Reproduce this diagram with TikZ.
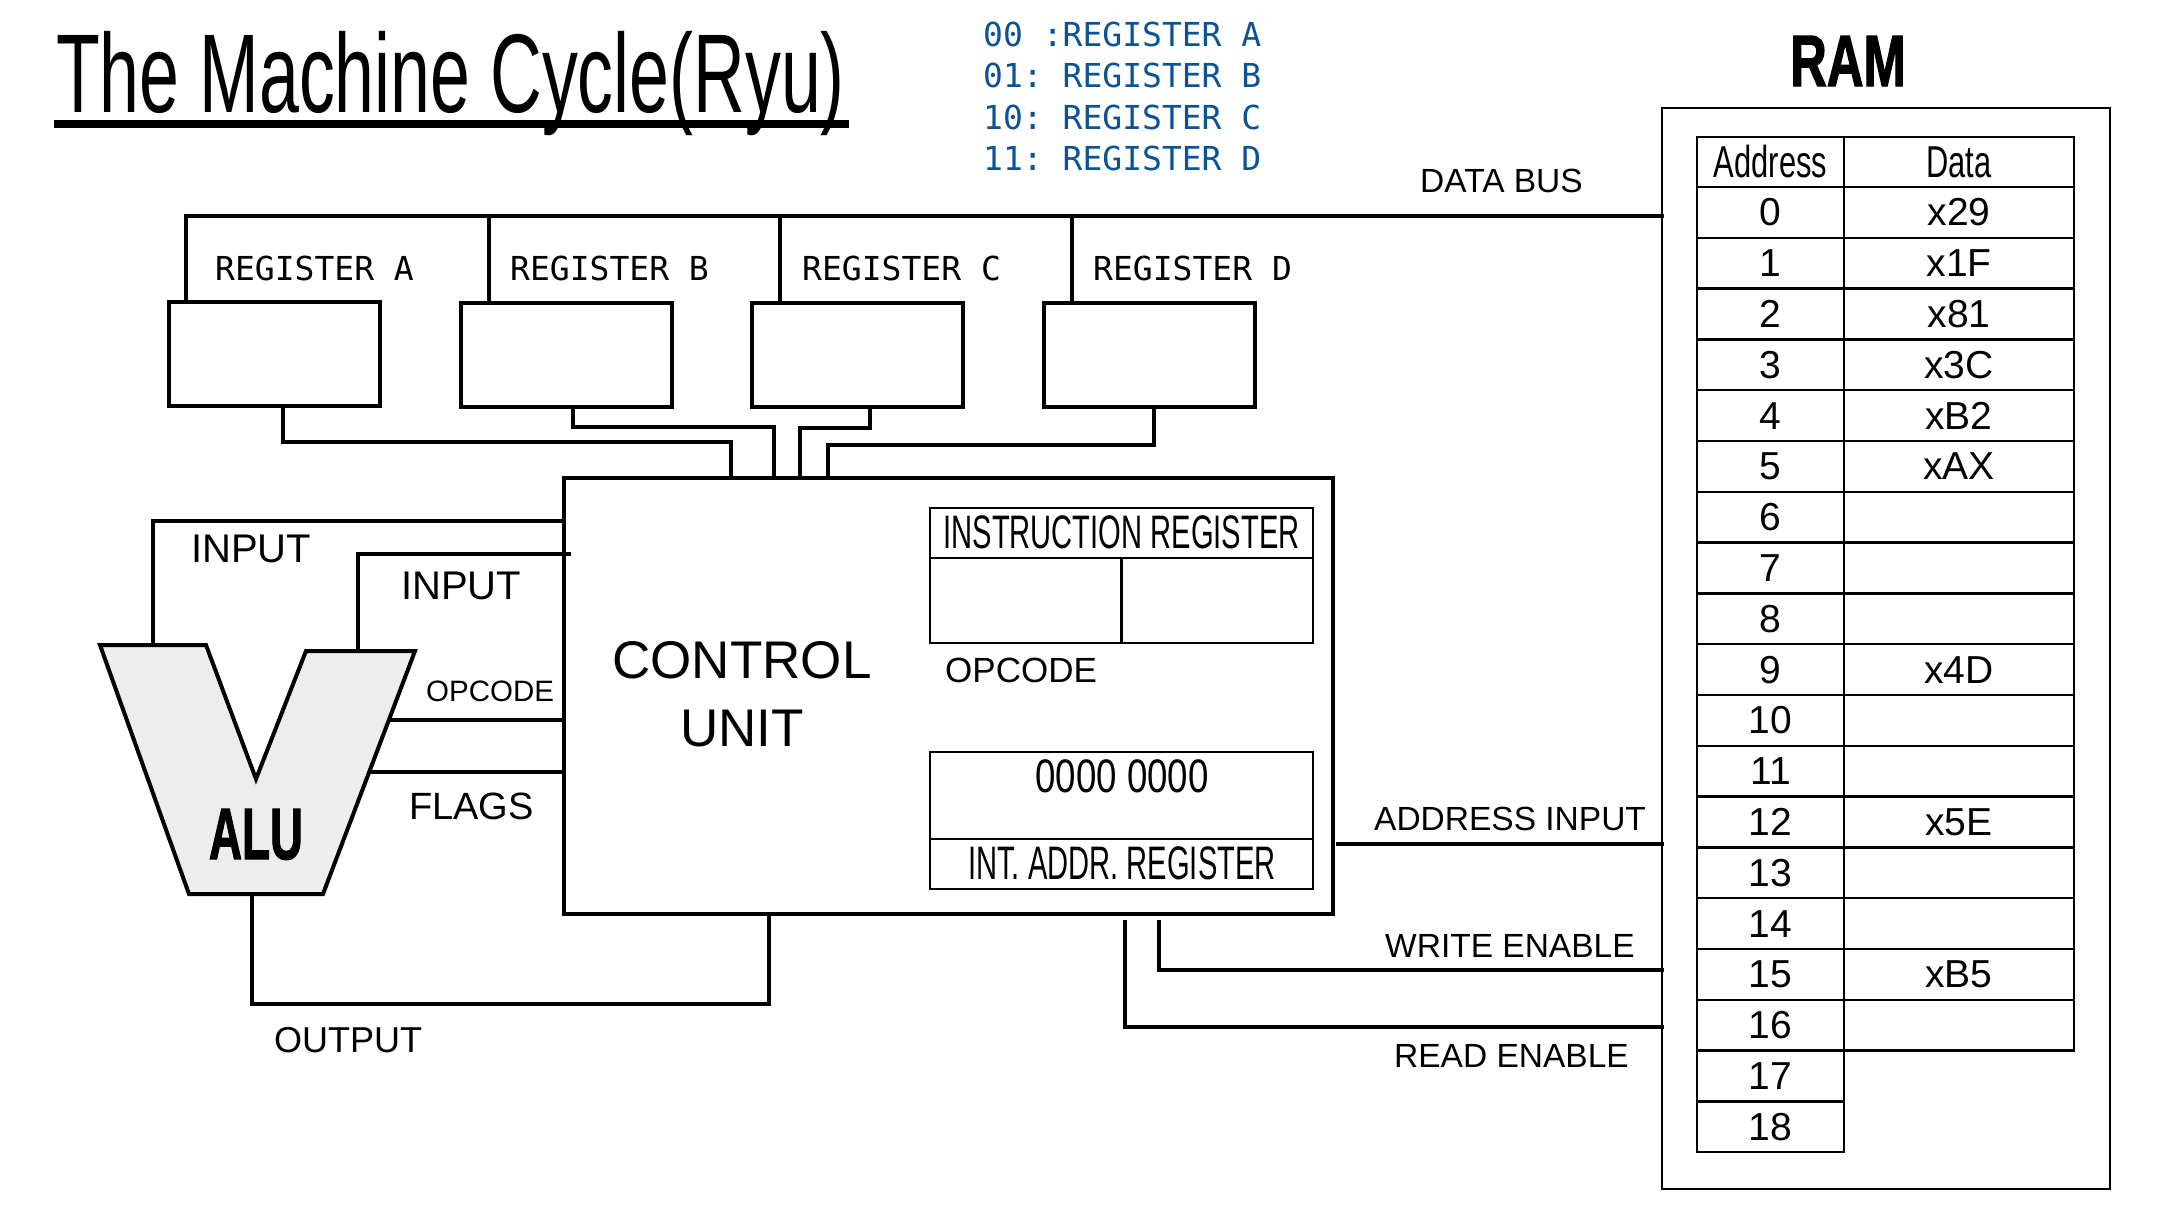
\documentclass[tikz,border=0pt]{standalone}
\usepackage{fontspec}
\usepackage{graphicx}
\setmainfont{Liberation Sans}
\newfontfamily\monof{DejaVu Sans Mono}
\newfontfamily\heavyf{Liberation Sans}[FakeBold=2]
\definecolor{legblue}{HTML}{0B5394}
\definecolor{alugray}{HTML}{EDEDED}
\newcommand\fs[1]{\fontsize{#1}{#1}\selectfont}
\frenchspacing
\begin{document}
\begin{tikzpicture}[x=1pt,y=-1pt,
  wire/.style={line width=4pt, line join=miter, line cap=rect},
  dropw/.style={line width=3.5pt, line cap=rect},
  thinl/.style={line width=2.2pt},
  regbox/.style={draw, line width=4pt, minimum width=211pt, minimum height=104pt, inner sep=0pt, outer sep=0pt},
  bigbox/.style={draw, line width=4.5pt, inner sep=0pt, outer sep=0pt},
  thinbox/.style={draw, line width=2.2pt, inner sep=0pt, outer sep=0pt},
  cell/.style={draw, line width=2.5pt, inner sep=0pt, outer sep=0pt, font=\fs{39}},
  lab/.style={inner sep=0pt, anchor=base west, font=\fs{33.5}},
  clab/.style={inner sep=0pt, anchor=base},
  mono/.style={inner sep=0pt, anchor=base west, font=\monof\fs{33}}
]
\useasboundingbox (0,0) rectangle (2169,1215);
\fill[white] (0,0) rectangle (2169,1215);

% title
\node[lab, font=\fs{112}] (title) at (56,113) {\scalebox{0.64}[1]{The Machine Cycle(Ryu)}};
\draw[line width=8pt] ([xshift=-2pt,yshift=-11pt]title.base west) -- ([xshift=4pt,yshift=-11pt]title.base east);

% legend
\node[mono, text=legblue] (l0) at (983,47) {00 :REGISTER A};
\node[mono, text=legblue] (l1) at (983,88) {01: REGISTER B};
\node[mono, text=legblue] (l2) at (983,129) {10: REGISTER C};
\node[mono, text=legblue] (l3) at (983,170) {11: REGISTER D};

% RAM
\node[clab, font=\heavyf\fs{72.6}\bfseries] (ramt) at (1848,86) {\scalebox{0.70}[1]{RAM}};
\node[draw, line width=2.5pt, inner sep=0pt, outer sep=0pt, minimum width=448pt, minimum height=1081pt] (ram) at (1886,648.5) {};

% table
\node[cell, minimum width=147pt, minimum height=50pt, font=\fs{44.7}] (hA) at (1770.5,162) {\scalebox{0.69}[1]{Address}};
\node[cell, minimum width=230pt, minimum height=50pt, font=\fs{44.7}] (hD) at (1959,162) {\scalebox{0.69}[1]{Data}};
\foreach \i in {0,...,18} {
  \node[cell, minimum width=147pt, minimum height=50.8pt] (a\i) at (1770.5,{212.4+50.8*\i}) {\i};
}
\foreach \i/\v in {0/x29,1/x1F,2/x81,3/x3C,4/xB2,5/xAX,6/{},7/{},8/{},9/x4D,10/{},11/{},12/x5E,13/{},14/{},15/xB5,16/{}} {
  \node[cell, minimum width=230pt, minimum height=50.8pt] (d\i) at (1959,{212.4+50.8*\i}) {\v};
}

% registers
\node[regbox] (rA) at (274.5,354) {};
\node[regbox] (rB) at (566,354.5) {};
\node[regbox] (rC) at (857.5,354.5) {};
\node[regbox] (rD) at (1149.5,355) {};
\node[mono] (tA) at (215,280) {REGISTER A};
\node[mono] (tB) at (510,280) {REGISTER B};
\node[mono] (tC) at (802,280) {REGISTER C};
\node[mono] (tD) at (1093,280) {REGISTER D};

% data bus
\coordinate (busL) at (186,216);
\coordinate (dB) at (489,216);
\coordinate (dC) at (780,216);
\coordinate (dD) at (1072,216);
\draw[wire] (ram.west |- busL) -- (busL);
\draw[dropw] (busL) -- (busL |- rA.north);
\draw[dropw] (dB) -- (dB |- rB.north);
\draw[dropw] (dC) -- (dC |- rC.north);
\draw[dropw] (dD) -- (dD |- rD.north);
\node[lab] (dbus) at (1420,192) {DATA BUS};

% control unit
\node[bigbox, minimum width=769pt, minimum height=436pt] (cu) at (948.5,696) {};
\node[clab, font=\fs{53}] (cu1) at (742,678) {CONTROL};
\node[clab, font=\fs{53}] (cu2) at (742,746) {UNIT};

% register -> CU wires
\coordinate (wA) at (283,442); \coordinate (cA) at (731,442);
\coordinate (wB) at (573,427); \coordinate (cB) at (774,427);
\coordinate (wC) at (870,428); \coordinate (cC) at (800,428);
\coordinate (wD) at (1154,445); \coordinate (cD) at (828,445);
\draw[wire] (wA |- rA.south) -- (wA) -- (cA) -- (cA |- cu.north);
\draw[wire] (wB |- rB.south) -- (wB) -- (cB) -- (cB |- cu.north);
\draw[wire] (wC |- rC.south) -- (wC) -- (cC) -- (cC |- cu.north);
\draw[wire] (wD |- rD.south) -- (wD) -- (cD) -- (cD |- cu.north);

% instruction register
\node[thinbox, minimum width=383pt, minimum height=135pt] (ir) at (1121.5,575.5) {};
\draw[thinl] ([yshift=-50pt]ir.north west) -- ([yshift=-50pt]ir.north east);
\draw[thinl] ([yshift=-50pt]ir.north) -- (ir.south);
\node[clab, font=\fs{47}] (irt) at (1121.5,548) {\scalebox{0.62}[1]{INSTRUCTION REGISTER}};
\node[lab, font=\fs{35}] (opc) at (945,682) {OPCODE};

% internal address register
\node[thinbox, minimum width=383pt, minimum height=137pt] (iar) at (1121.5,820.5) {};
\draw[thinl] ([yshift=50pt]iar.south west) -- ([yshift=50pt]iar.south east);
\node[clab, font=\fs{47}] (iarv) at (1122,792) {\scalebox{0.78}[1]{0000 0000}};
\node[clab, font=\fs{47}] (iart) at (1122,879) {\scalebox{0.62}[1]{INT. ADDR. REGISTER}};

% ALU
\draw[line width=4pt, line join=miter, fill=alugray] (100,645) -- (206,645) -- (256,779) -- (306,651) -- (415,651) -- (323,894) -- (189,894) -- cycle;
\node[clab, font=\heavyf\fs{72.6}\bfseries] (alu) at (256,859) {\scalebox{0.63}[1]{ALU}};
\coordinate (ai1) at (153,645);
\coordinate (i1c) at (153,521);
\coordinate (ai2) at (358,651);
\coordinate (i2c) at (358,554);
\coordinate (aop) at (392,720);
\coordinate (afl) at (372,772);
\coordinate (aout) at (252,894);
\coordinate (oc) at (769,1004);
\draw[wire] (ai1) -- (i1c) -- (i1c -| cu.west);
\draw[wire] (ai2) -- (i2c) -- ([xshift=5pt]i2c -| cu.west);
\draw[wire] (aop) -- (aop -| cu.west);
\draw[wire] (afl) -- (afl -| cu.west);
\draw[wire] (aout) -- (aout |- oc) -- (oc) -- (oc |- cu.south);
\node[lab, font=\fs{40}] (in1) at (191,562) {INPUT};
\node[lab, font=\fs{40}] (in2) at (401,599) {INPUT};
\node[lab, font=\fs{29.5}] (opl) at (426,701) {OPCODE};
\node[lab, font=\fs{38}] (flg) at (409,819) {FLAGS};
\node[lab, font=\fs{36}] (outl) at (274,1052) {OUTPUT};

% RAM control lines
\coordinate (adS) at (1338,844);
\coordinate (weT) at (1159,922);
\coordinate (weC) at (1159,970);
\coordinate (reT) at (1125,922);
\coordinate (reC) at (1125,1027);
\draw[wire] (adS) -- (adS -| ram.west);
\draw[wire] (weT) -- (weC) -- (weC -| ram.west);
\draw[wire] (reT) -- (reC) -- (reC -| ram.west);
\node[lab] (adl) at (1374,830) {ADDRESS INPUT};
\node[lab] (wel) at (1385,957) {WRITE ENABLE};
\node[lab] (rel) at (1394,1067) {READ ENABLE};
\end{tikzpicture}
\end{document}
